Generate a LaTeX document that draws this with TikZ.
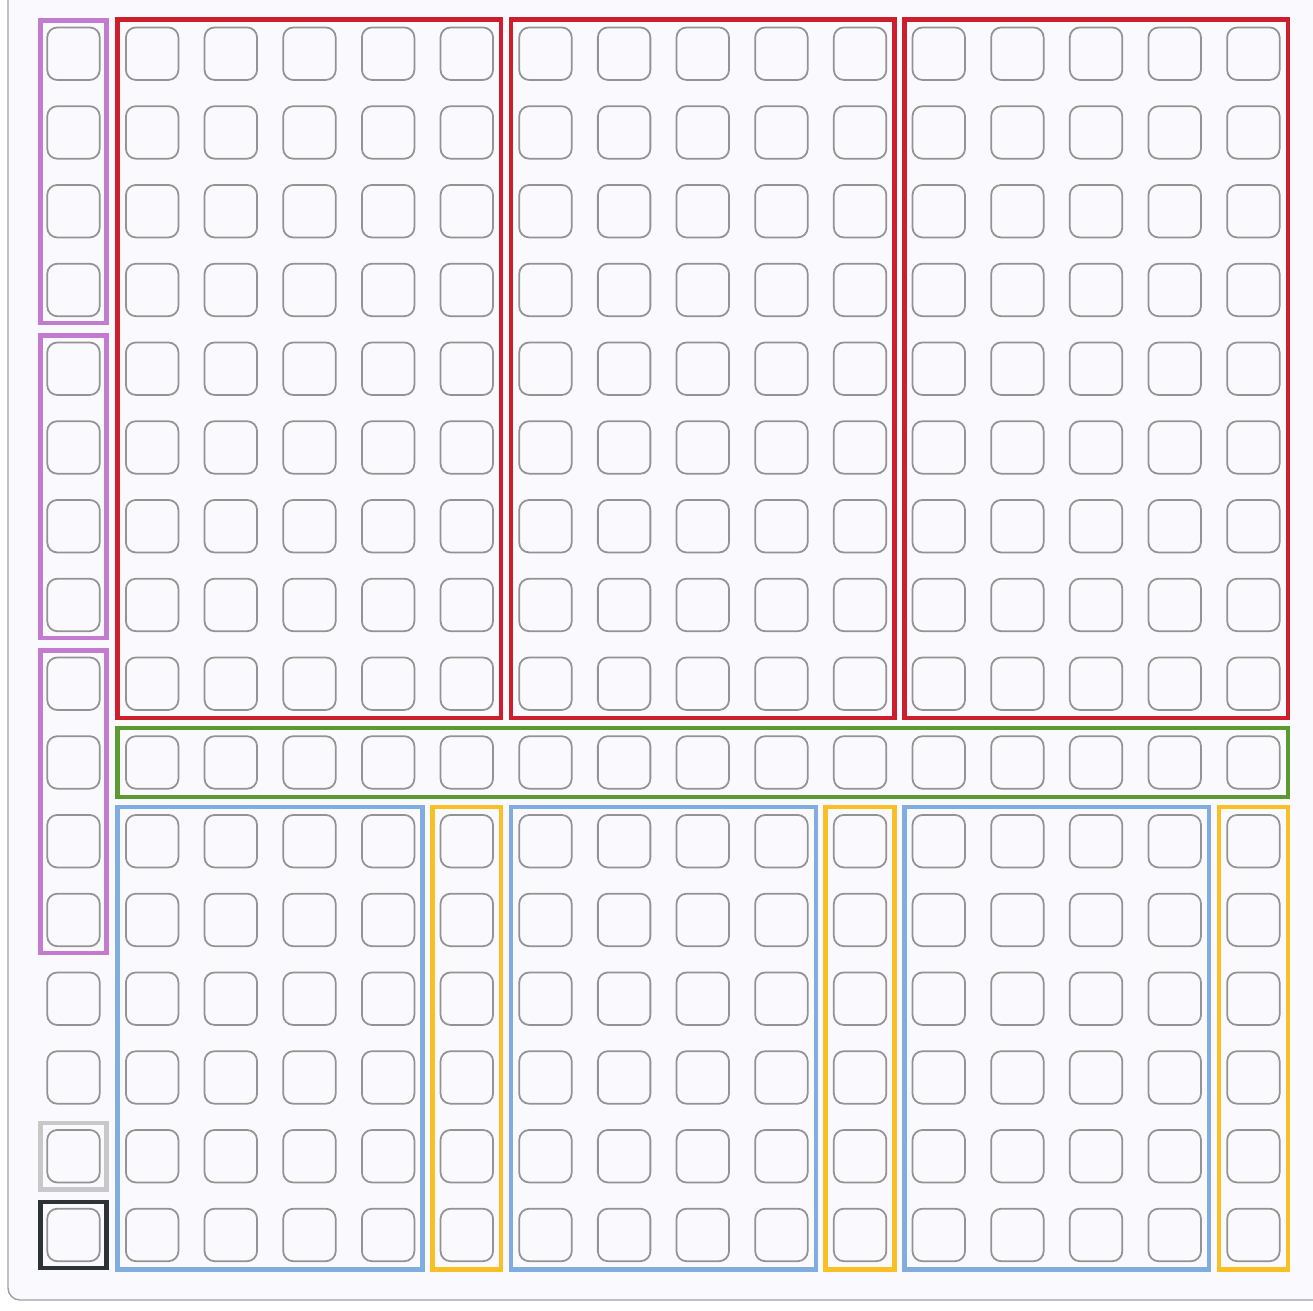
\documentclass[tikz,border=0pt]{standalone}
\usepackage{tikz}
\usetikzlibrary{fit}
\definecolor{grpurple}{HTML}{C27BCE}
\definecolor{grred}{HTML}{CC1E2B}
\definecolor{grgreen}{HTML}{5B9A31}
\definecolor{grblue}{HTML}{80ACE0}
\definecolor{gryellow}{HTML}{F9BF24}
\definecolor{grlight}{HTML}{C8C8C8}
\definecolor{grdark}{HTML}{2D3236}
\definecolor{cellgrey}{HTML}{939393}
\definecolor{panelbg}{HTML}{FAFAFE}
\definecolor{panelline}{HTML}{A0A0A0}

\begin{document}
\begin{tikzpicture}[x=0.2mm, y=-0.2mm,
      cell/.style={draw=cellgrey, line width=1pt, rounded corners=2mm,
                   minimum size=10.5mm, inner sep=0pt},
      grp/.style={draw=#1, line width=2.6pt, inner sep=1.45mm},
      colgrp/.style={draw=#1, line width=2.6pt, inner sep=1.2mm}]
      \fill[white] (0,0) rectangle (1313,1310);
      \useasboundingbox (0,0) rectangle (1313,1310);
      % panel
      \draw[panelline, fill=panelbg, line width=0.8pt, rounded corners=2.4mm] (8,-40) rectangle (1340,1300);

      % 16 x 16 cells
      \foreach \r in {0,...,15} {
        \foreach \c in {0,...,15} {
          \node[cell] (c-\r-\c) at ({73.5+78.66*\c},{53.7+78.75*\r}) {};
        }}

      % left column
      \node[colgrp=grpurple, fit=(c-0-0)(c-3-0)] (col-a) {};
      \node[colgrp=grpurple, fit=(c-4-0)(c-7-0)] (col-b) {};
      \node[colgrp=grpurple, fit=(c-8-0)(c-11-0)] (col-c) {};
      \node[colgrp=grlight, fit=(c-14-0)] (col-light) {};
      \node[colgrp=grdark, fit=(c-15-0)] (col-dark) {};

      % upper blocks and band
      \foreach \b/\a/\z in {0/1/5, 1/6/10, 2/11/15} {
        \node[grp=grred, fit=(c-0-\a)(c-8-\z)] (upper-\b) {};
      }
      \node[grp=grgreen, fit=(c-9-1)(c-9-15)] (band) {};

      % lower blocks
      \foreach \b/\a/\z/\y in {0/1/4/5, 1/6/9/10, 2/11/14/15} {
        \node[grp=grblue, fit=(c-10-\a)(c-15-\z)] (lower-\b) {};
        \node[grp=gryellow, fit=(c-10-\y)(c-15-\y)] (side-\b) {};
      }
    \end{tikzpicture}
\end{document}
